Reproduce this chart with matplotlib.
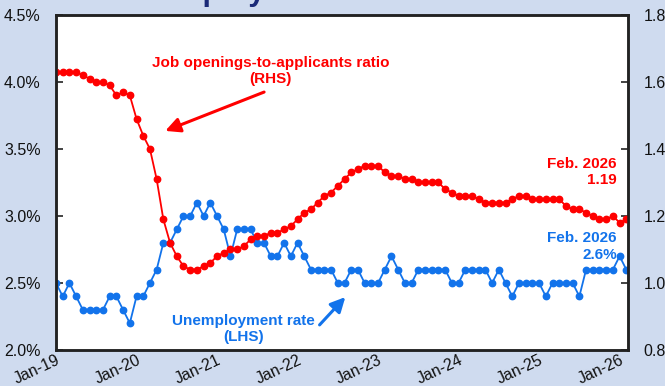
import numpy as np
import matplotlib.pyplot as plt

plt.rcParams['font.family'] = ['Liberation Sans', 'DejaVu Sans']

## DATA: monthly, Jan-2019 .. Feb-2026
unemployment_rate = [
    2.5, 2.4, 2.5, 2.4, 2.3, 2.3, 2.3, 2.3, 2.4, 2.4, 2.3, 2.2,   # 2019
    2.4, 2.4, 2.5, 2.6, 2.8, 2.8, 2.9, 3.0, 3.0, 3.1, 3.0, 3.1,   # 2020
    3.0, 2.9, 2.7, 2.9, 2.9, 2.9, 2.8, 2.8, 2.7, 2.7, 2.8, 2.7,   # 2021
    2.8, 2.7, 2.6, 2.6, 2.6, 2.6, 2.5, 2.5, 2.6, 2.6, 2.5, 2.5,   # 2022
    2.5, 2.6, 2.7, 2.6, 2.5, 2.5, 2.6, 2.6, 2.6, 2.6, 2.6, 2.5,   # 2023
    2.5, 2.6, 2.6, 2.6, 2.6, 2.5, 2.6, 2.5, 2.4, 2.5, 2.5, 2.5,   # 2024
    2.5, 2.4, 2.5, 2.5, 2.5, 2.5, 2.4, 2.6, 2.6, 2.6, 2.6, 2.6,   # 2025
    2.7, 2.6,                                                     # 2026
]
jobs_to_applicants = [
    1.63, 1.63, 1.63, 1.63, 1.62, 1.61, 1.60, 1.60, 1.59, 1.56, 1.57, 1.56,
    1.49, 1.44, 1.40, 1.31, 1.19, 1.12, 1.08, 1.05, 1.04, 1.04, 1.05, 1.06,
    1.08, 1.09, 1.10, 1.10, 1.11, 1.13, 1.14, 1.14, 1.15, 1.15, 1.16, 1.17,
    1.19, 1.21, 1.22, 1.24, 1.26, 1.27, 1.29, 1.31, 1.33, 1.34, 1.35, 1.35,
    1.35, 1.33, 1.32, 1.32, 1.31, 1.31, 1.30, 1.30, 1.30, 1.30, 1.28, 1.27,
    1.26, 1.26, 1.26, 1.25, 1.24, 1.24, 1.24, 1.24, 1.25, 1.26, 1.26, 1.25,
    1.25, 1.25, 1.25, 1.25, 1.23, 1.22, 1.22, 1.21, 1.20, 1.19, 1.19, 1.20,
    1.18, 1.19,
]
xtick_labels = ["Jan-19", "Jan-20", "Jan-21", "Jan-22", "Jan-23", "Jan-24", "Jan-25", "Jan-26"]
left_ticks = [2.0, 2.5, 3.0, 3.5, 4.0, 4.5]
right_ticks = [0.8, 1.0, 1.2, 1.4, 1.6, 1.8]

RED = "#FF0000"
BLUE = "#1273EB"
BG = "#CFDBEF"

months = np.arange(len(unemployment_rate))

fig = plt.figure(figsize=(6.65, 3.86), dpi=100, facecolor=BG)
ax1 = fig.add_axes([56 / 665, 36 / 386, 572 / 665, 335 / 386])
ax2 = ax1.twinx()

ax1.plot(months, unemployment_rate, color=BLUE, lw=1.3, marker='o', ms=4.6)
ax2.plot(months, jobs_to_applicants, color=RED, lw=1.3, marker='o', ms=4.6)

ax1.set_xlim(0, 85.25)
ax1.set_ylim(2.0, 4.5)
ax2.set_ylim(0.8, 1.8)

ax1.set_xticks([12 * i for i in range(len(xtick_labels))])
ax1.set_xticklabels(xtick_labels, rotation=25, ha='right', va='top', rotation_mode='anchor')
ax1.set_yticks(left_ticks)
ax1.set_yticklabels([f"{t:.1f}%" for t in left_ticks])
ax2.set_yticks(right_ticks)
ax2.set_yticklabels([f"{t:.1f}" for t in right_ticks])

ax1.tick_params(axis='x', length=0, pad=2, labelsize=11.5, colors='#111111')
ax1.tick_params(axis='y', direction='in', length=5, width=1.2, pad=11, labelsize=11.5,
                color='#222222', labelcolor='#111111')
ax2.tick_params(axis='y', direction='in', length=5, width=1.2, pad=11, labelsize=11.5,
                color='#222222', labelcolor='#111111')

for ax in (ax1, ax2):
    for s in ax.spines.values():
        s.set_linewidth(1.8)
        s.set_color('#222222')
ax1.set_facecolor('white')

# series labels with arrows
ax2.annotate("", xy=(15.9, 1.451), xytext=(31.4, 1.573),
             arrowprops=dict(arrowstyle='-|>', color=RED, lw=2.2, mutation_scale=22))
ax2.text(32.0, 1.633, "Job openings-to-applicants ratio\n(RHS)", color=RED,
         fontsize=11, fontweight='bold', ha='center', va='center', multialignment='center')
ax2.text(83.6, 1.331, "Feb. 2026\n1.19", color=RED, fontsize=11, fontweight='bold',
         ha='right', va='center', multialignment='right')

ax1.annotate("", xy=(43.4, 2.41), xytext=(39.0, 2.172),
             arrowprops=dict(arrowstyle='-|>', color=BLUE, lw=2.2, mutation_scale=22))
ax1.text(27.9, 2.157, "Unemployment rate\n(LHS)", color=BLUE, fontsize=11,
         fontweight='bold', ha='center', va='center', multialignment='center')
ax1.text(83.6, 2.772, "Feb. 2026\n2.6%", color=BLUE, fontsize=11, fontweight='bold',
         ha='right', va='center', multialignment='right')

# chart heading sits mostly above the canvas; only its descenders show
fig.text(155 / 665, 1.0, "Employment", color='#1B2A78', fontsize=22,
         fontweight='bold', ha='left', va='baseline')

fig.savefig("out.png", dpi=100, facecolor=BG)
